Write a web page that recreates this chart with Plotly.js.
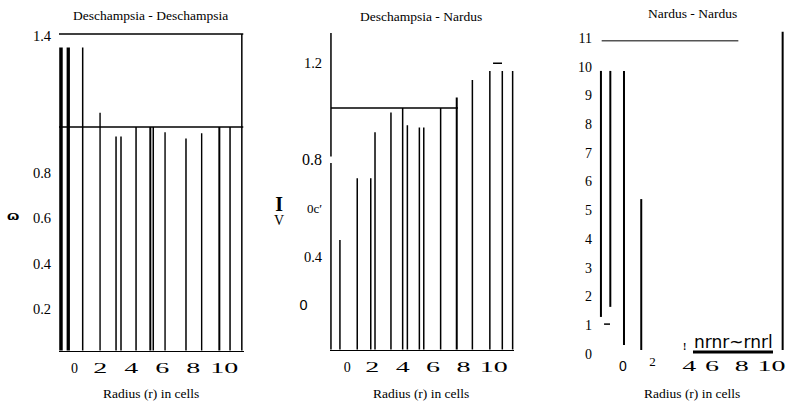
<!DOCTYPE html>
<html><head><meta charset="utf-8">
<script src="https://cdn.plot.ly/plotly-3.0.1.min.js"></script>
<style>html,body{margin:0;padding:0;background:#fff}#chart{width:793px;height:403px}</style>
</head><body><div id="chart"></div>
<script>
// ================= DATA =================
const panelTitles = ['Deschampsia - Deschampsia', 'Deschampsia - Nardus', 'Nardus - Nardus'];
const xTitle = 'Radius (r) in cells';
const xTickVals = [0, 2, 4, 6, 8, 10];
const xTickText = ['\u00a0\u00a0\u00a00', '2', '4', '6', '8', '10'];

// Panel 1: Deschampsia - Deschampsia
const p1X    = [-0.53, -0.06, 0.87, 1.99, 3.02, 3.34, 4.31, 5.23, 5.42, 6.18, 7.53, 8.54, 9.68, 10.37, 11.13];
const p1Top  = [1.349, 1.349, 1.349, 1.063, 0.958, 0.958, 1.0, 1.0, 1.0, 0.977, 0.949, 0.972, 1.0, 1.0, 1.409];
const p1Base = 0;
const p1HLines = [1.409, 1.0];
const p1YTickVals = [1.4, 0.8, 0.6, 0.4, 0.2];
const p1YTickText = ['1.4', '0.8', '0.6', '0.4', '0.2'];

// Panel 2: Deschampsia - Nardus
const p2X    = [-0.13, 1.01, 1.90, 2.18, 3.23, 4.00, 4.31, 5.10, 5.39, 6.50, 7.56, 8.59, 9.74, 10.56, 11.24];
const p2Top  = [0.469, 0.724, 0.724, 0.915, 0.996, 1.015, 0.944, 0.934, 0.934, 1.015, 1.059, 1.131, 1.168, 1.168, 1.168];
const p2Base = 0;
const p2HLineX = [-0.72, 7.64];
const p2HLineY = 1.015;
const p2DashX = [9.95, 10.54];
const p2DashY = 1.2;
const p2AxisX = -0.72;
const p2AxisY = [1.325, 0.814, null, 0.788, 0];
const p2YTickVals = [1.2, 0.8, 0.6, 0.4, 0.2];
const p2YTickText = ['1.2', '<span style="font-size:16px">0.8</span>', '<span style="font-size:13px">0c′</span>', '0.4',
                     '<span style="font-family:Liberation Sans">0</span>\u00a0\u00a0\u00a0\u00a0'];

// Panel 3: Nardus - Nardus
const p3X    = [-1.47, -0.84, 0.08, 1.24, 10.75];
const p3Top  = [9.85, 9.85, 9.85, 5.39, 11.21];
const p3Base = [1.29, 1.64, 0.31, 0.14, 0.14];
const p3HLineX = [-1.42, 7.77];
const p3HLineY = 10.9;
const p3DashX = [-1.26, -0.86];
const p3DashY = 1.04;
const p3SegX = [4.72, 10.10];
const p3SegY = 0.07;
const p3YTickVals = [0, 1, 2, 3, 4, 5, 6, 7, 8, 9, 10, 11];
const p3YTickText = ['0', '1', '2', '3', '4', '5', '6', '7', '8', '9', '10', '11'];
const p3XTickText = ['<span style="font-family:Liberation Sans">0</span>',
                     '<span style="font-size:13px;baseline-shift:5px">2</span>', '\u00a0\u00a04', '6', '8', '10'];

// ================= STYLE / GEOMETRY =================
const W = 793, H = 403;
const SERIF = 'Liberation Serif';
const p1W = [3.5, 3.3, 1.5, 1.4, 1.5, 1.5, 1.5, 2, 1.5, 1.4, 1.5, 1.4, 2, 1.5, 1.5];
const p2W = [1.5, 1.5, 1.5, 1.5, 1.5, 1.5, 1.5, 1.5, 1.5, 1.5, 2, 1.5, 1.5, 1.5, 1.5];
const p3W = [2, 2, 2, 2, 2];

function xAxis(px0, px1, origin, scale, extra) {
  return Object.assign({
    domain: [px0 / W, px1 / W],
    range: [(px0 - origin) / scale, (px1 - origin) / scale],
    showgrid: false, zeroline: false, ticks: '', fixedrange: true,
    tickfont: {family: SERIF, size: 14, color: '#000'}
  }, extra);
}
function yAxis(pyTop, pyBot, zeroPx, scale, extra) {
  return Object.assign({
    domain: [1 - pyBot / H, 1 - pyTop / H],
    range: [(zeroPx - pyBot) / scale, (zeroPx - pyTop) / scale],
    showgrid: false, zeroline: false, ticks: '', fixedrange: true,
    tickfont: {family: SERIF, size: 14.5, color: '#000'}
  }, extra);
}

const traces = [];
function addBars(xs, tops, bases, widths, xa, ya) {
  xs.forEach((x, i) => {
    const b = Array.isArray(bases) ? bases[i] : bases;
    traces.push({type: 'scatter', mode: 'lines', x: [x, x], y: [b, tops[i]],
      line: {color: '#000', width: widths[i]}, xaxis: xa, yaxis: ya,
      hoverinfo: 'skip', showlegend: false});
  });
}
function addLine(xs, ys, width, color, xa, ya) {
  traces.push({type: 'scatter', mode: 'lines', x: xs, y: ys, connectgaps: false,
    line: {color: color, width: width}, xaxis: xa, yaxis: ya, hoverinfo: 'skip', showlegend: false});
}

// panel 1
addBars(p1X, p1Top, p1Base, p1W, 'x', 'y');
p1HLines.forEach(v => addLine([-0.66, 11.24], [v, v], 1.5, '#000', 'x', 'y'));
// panel 2
addBars(p2X, p2Top, p2Base, p2W, 'x2', 'y2');
addLine(p2HLineX, [p2HLineY, p2HLineY], 1.5, '#000', 'x2', 'y2');
addLine(p2DashX, [p2DashY, p2DashY], 1.5, '#000', 'x2', 'y2');
addLine(p2AxisY.map(v => v === null ? null : p2AxisX), p2AxisY, 1.5, '#000', 'x2', 'y2');
// panel 3
addBars(p3X, p3Top, p3Base, p3W, 'x3', 'y3');
addLine(p3HLineX, [p3HLineY, p3HLineY], 1.5, '#555', 'x3', 'y3');
addLine(p3DashX, [p3DashY, p3DashY], 1.5, '#000', 'x3', 'y3');
addLine(p3SegX, [p3SegY, p3SegY], 3, '#000', 'x3', 'y3');

function ann(text, px, py, size, family, extra) {
  return Object.assign({text: text, xref: 'paper', yref: 'paper', x: px / W, y: 1 - py / H,
    xanchor: 'center', yanchor: 'middle', showarrow: false,
    font: {family: family || SERIF, size: size, color: '#000'}}, extra);
}

const annotations = [
  ann(panelTitles[0], 150.7, 15, 13.5),
  ann(panelTitles[1], 421.3, 16, 13.5),
  ann(panelTitles[2], 692.3, 14, 13.5),
  ann(xTitle, 151, 393, 13.5),
  ann(xTitle, 421.3, 393, 13.5),
  ann(xTitle, 692, 393, 13.5),
  ann('<b>ɷ</b>', 12.5, 215, 13, 'DejaVu Serif'),
  ann('<span style="font-size:20px"><b>I</b></span><br><span style="font-size:14px">V</span>', 278.5, 211, 11),
  ann('<b>!</b>', 684, 346, 10),
  ann('nrnr~rnrl', 733, 342, 17, 'DejaVu Sans')
];

const layout = {
  width: W, height: H, margin: {l: 0, r: 0, t: 0, b: 0},
  paper_bgcolor: '#fff', plot_bgcolor: 'rgba(0,0,0,0)', showlegend: false,
  font: {family: SERIF, color: '#000'},
  xaxis:  xAxis(59, 243.5, 69.2, 15.51, {anchor: 'y', showline: true, linewidth: 1.5, linecolor: '#000',
           tickvals: xTickVals, ticktext: xTickText, ticklabelstandoff: 4}),
  yaxis:  yAxis(30, 350.5, 354.5, 227.5, {anchor: 'x', tickvals: p1YTickVals, ticktext: p1YTickText, ticklabelstandoff: 7}),
  xaxis2: xAxis(330, 514, 341.9, 15.19, {anchor: 'y2', showline: true, linewidth: 1.5, linecolor: '#000',
           tickvals: xTickVals, ticktext: xTickText, ticklabelstandoff: 4}),
  yaxis2: yAxis(30, 349.5, 353.4, 241.75, {anchor: 'x2', tickvals: p2YTickVals, ticktext: p2YTickText, ticklabelstandoff: 7}),
  xaxis3: xAxis(598, 786, 622.8, 14.87, {anchor: 'y3', tickvals: xTickVals, ticktext: p3XTickText, ticklabelstandoff: 0}),
  yaxis3: yAxis(28, 356, 354, 28.74, {anchor: 'x3', tickvals: p3YTickVals, ticktext: p3YTickText, ticklabelstandoff: 5,
           tickfont: {family: SERIF, size: 14, color: '#000'}}),
  annotations: annotations
};

const gd = document.getElementById('chart');
function stretchTicks() {
  gd.querySelectorAll('.xtick text, .x2tick text, .x3tick text').forEach(el => {
    const t = el.textContent.trim();
    const inP3 = el.closest('.x3tick') !== null;
    let f = 2.0;
    if (t === '0' || (inP3 && t === '2')) f = 1;
    if (f !== 1) {
      const w = el.getComputedTextLength();
      el.setAttribute('textLength', (w * f).toFixed(1));
      el.setAttribute('lengthAdjust', 'spacingAndGlyphs');
    }
  });
}
Plotly.newPlot(gd, traces, layout, {staticPlot: true, displayModeBar: false}).then(stretchTicks);
</script>
</body></html>
